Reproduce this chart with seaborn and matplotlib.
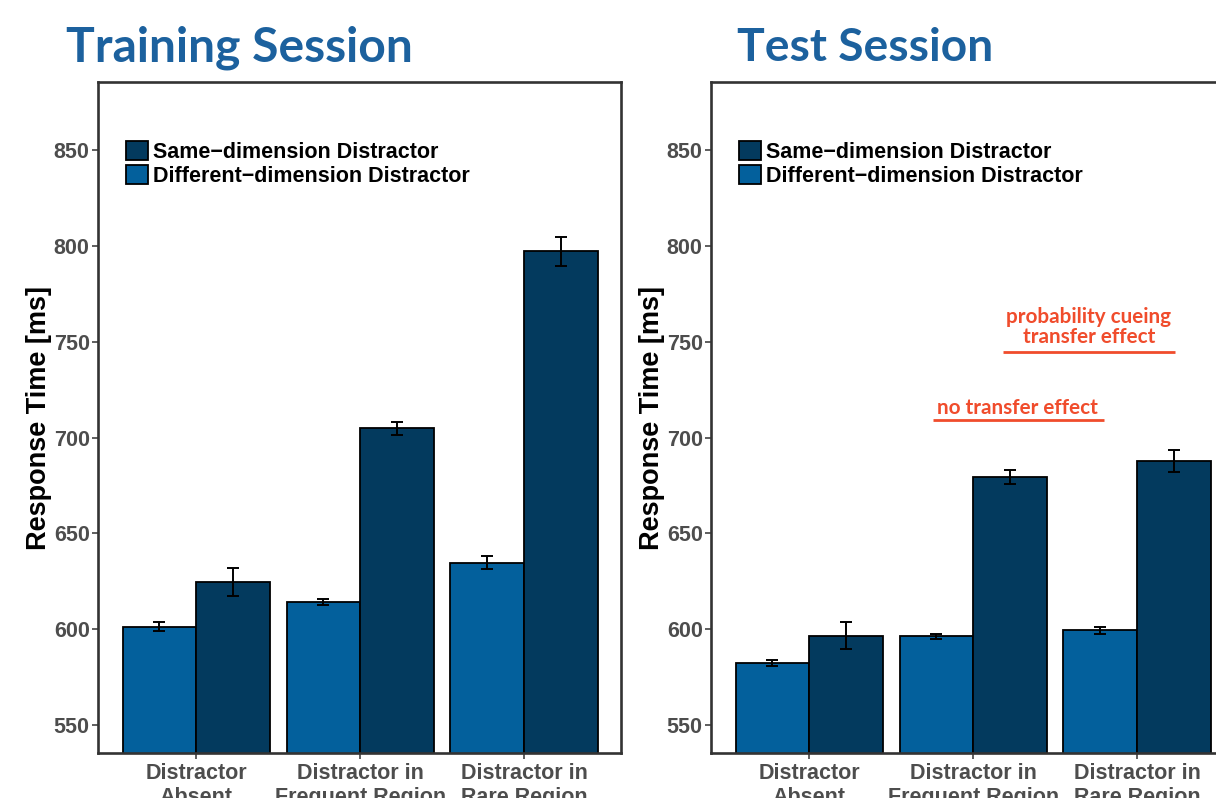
import numpy as np
import pandas as pd
import matplotlib
matplotlib.use("Agg")
import matplotlib.pyplot as plt
import seaborn as sns

# ---- data -------------------------------------------------------------
conditions = ["Distractor\nAbsent", "Distractor in\nFrequent Region", "Distractor in\nRare Region"]
distractor_types = ["Different\u2212dimension Distractor", "Same\u2212dimension Distractor"]

train_diff = [601.2, 614.2, 634.6]
train_diff_se = [2.3, 1.6, 3.4]
train_same = [624.5, 704.9, 797.2]
train_same_se = [7.4, 3.4, 7.6]

test_diff = [582.3, 596.2, 599.5]
test_diff_se = [1.4, 1.1, 1.8]
test_same = [596.5, 679.2, 687.7]
test_same_se = [7.0, 3.6, 5.6]

y_ticks = [550, 600, 650, 700, 750, 800, 850]
panel_titles = ["Training Session", "Test Session"]

# ---- style ------------------------------------------------------------
sns.set_style("white")
plt.rcParams["font.family"] = ["Liberation Sans", "DejaVu Sans"]
plt.rcParams["font.weight"] = "bold"
plt.rcParams["axes.labelweight"] = "bold"
plt.rcParams["text.color"] = "black"

palette = {distractor_types[0]: "#03609C", distractor_types[1]: "#033A5E"}
spine_color = "#333333"
tick_color = "#4D4D4D"
title_blue = "#1C619E"
note_red = "#F04C2C"

W, H = 1216, 798
fig = plt.figure(figsize=(W / 100, H / 100), dpi=100)

def px_box(left, top, right, bottom):
    return [left / W, 1 - bottom / H, (right - left) / W, (bottom - top) / H]

ax1 = fig.add_axes(px_box(98, 82, 621, 753))
ax2 = fig.add_axes(px_box(711, 82, 1234, 753))


def draw_panel(ax, diff, diff_se, same, same_se):
    df = pd.DataFrame({
        "condition": conditions * 2,
        "type": [distractor_types[0]] * 3 + [distractor_types[1]] * 3,
        "rt": list(diff) + list(same),
    })
    sns.barplot(data=df, x="condition", y="rt", hue="type", order=conditions,
                hue_order=distractor_types, palette=palette, width=0.9,
                errorbar=None, saturation=1, edgecolor="black", linewidth=1.3,
                ax=ax)
    for container, se in zip(ax.containers, [diff_se, same_se]):
        xs = [b.get_x() + b.get_width() / 2 for b in container]
        ys = [b.get_y() + b.get_height() for b in container]
        ax.errorbar(xs, ys, yerr=se, fmt="none", ecolor="black",
                    elinewidth=1.4, capsize=4, capthick=1.4, zorder=5)

    ax.set_ylim(535.4, 885.5)
    ax.set_xlim(-0.6, 2.59)
    ax.set_yticks(y_ticks)
    ax.set_xlabel("")
    ax.set_ylabel("Response Time [ms]", fontsize=19.5, color="black",
                  fontweight="bold", labelpad=1.5)
    for s in ax.spines.values():
        s.set_color(spine_color)
        s.set_linewidth(1.9)
        s.set_visible(True)
    ax.tick_params(axis="both", which="major", length=4, width=1.1,
                   color=spine_color, labelcolor=tick_color, labelsize=15.5)
    ax.tick_params(axis="y", pad=2, left=True)
    ax.tick_params(axis="x", pad=3.5, bottom=True)
    for lbl in ax.get_xticklabels():
        lbl.set_fontweight("bold")
        lbl.set_linespacing(1.15)
    for lbl in ax.get_yticklabels():
        lbl.set_fontweight("bold")

    # legend: same-dimension first
    leg = ax.get_legend()
    handles = list(leg.legend_handles)
    labels = [t.get_text() for t in leg.get_texts()]
    leg.remove()
    for h in handles:
        h.set_edgecolor("black")
        h.set_linewidth(1.3)
    ax.legend(handles[::-1], labels[::-1], loc="upper left",
              bbox_to_anchor=(0.0535, 0.912), frameon=False,
              prop={"family": "Liberation Sans", "weight": "bold", "size": 15.5},
              labelcolor="black",
              handlelength=1.0, handleheight=1.0, handletextpad=0.25,
              labelspacing=0.1, borderpad=0, borderaxespad=0)


draw_panel(ax1, train_diff, train_diff_se, train_same, train_same_se)
draw_panel(ax2, test_diff, test_diff_se, test_same, test_same_se)

# ---- panel titles -----------------------------------------------------
t1 = fig.text(66 / W, 1 - 61 / H, panel_titles[0], ha="left", va="baseline",
              fontfamily="Lato", fontweight="bold", fontsize=36, color=title_blue)
t2 = fig.text(737 / W, 1 - 61 / H, panel_titles[1], ha="left", va="baseline",
              fontfamily="Lato", fontweight="bold", fontsize=36, color=title_blue)

# ---- annotations on the test panel -------------------------------------
note_kw = dict(ha="center", va="baseline", fontfamily="Lato",
               fontweight="bold", fontsize=14, color=note_red, zorder=6)
n1 = ax2.text(1.272, 712.5, "no transfer effect", **note_kw)
n2 = ax2.text(1.705, 759.6, "probability cueing", **note_kw)
n3 = ax2.text(1.705, 749.4, "transfer effect", **note_kw)
ax2.plot([0.757, 1.800], [708.9, 708.9], color=note_red, lw=2.0,
         solid_capstyle="butt", zorder=6)
ax2.plot([1.181, 2.228], [744.8, 744.8], color=note_red, lw=2.0,
         solid_capstyle="butt", zorder=6)
ax2.set_ylim(535.4, 885.5)
ax2.set_xlim(-0.6, 2.59)

# size the headline and note fonts to their set widths
fig.canvas.draw()
renderer = fig.canvas.get_renderer()
for txt, target in [(t1, 347), (t2, 256)]:
    w = txt.get_window_extent(renderer).width
    txt.set_fontsize(txt.get_fontsize() * target / w)
w = n1.get_window_extent(renderer).width
note_size = n1.get_fontsize() * 162 / w
for txt in (n1, n2, n3):
    txt.set_fontsize(note_size)

fig.savefig("out.png", dpi=100)
